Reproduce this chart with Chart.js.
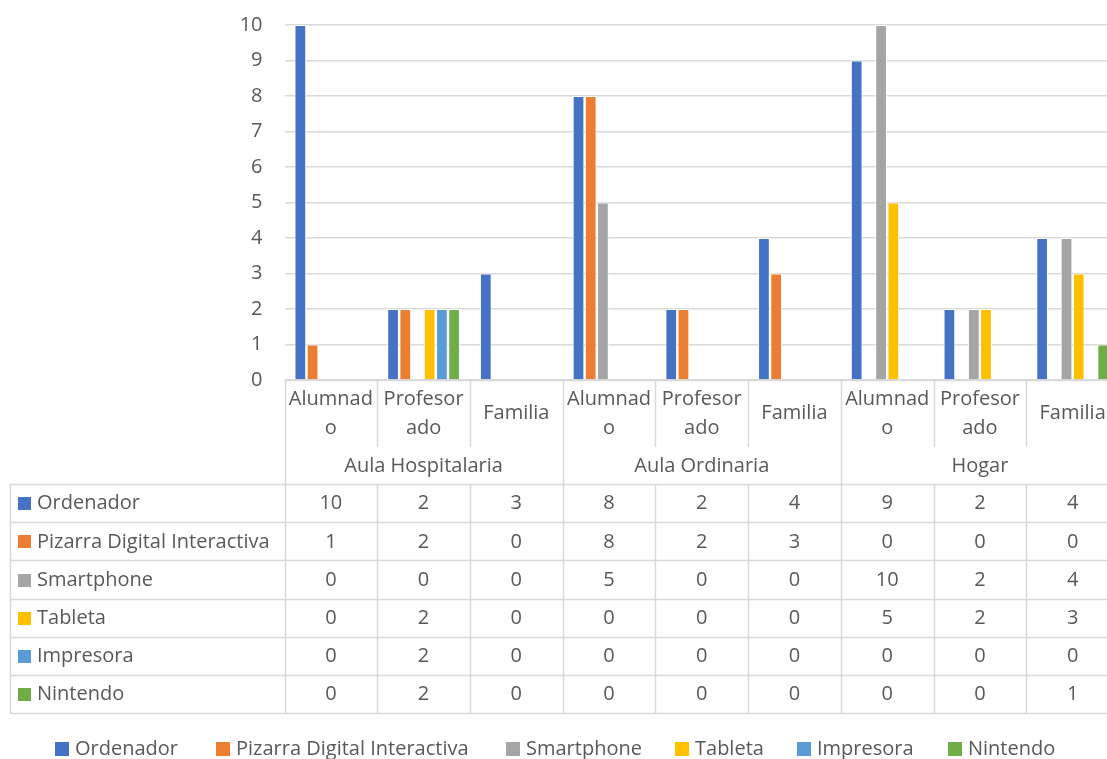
<!DOCTYPE html>
<html>
<head>
<meta charset="utf-8">
<script src="https://cdn.jsdelivr.net/npm/chart.js@4.4.1/dist/chart.umd.min.js"></script>
<style>
  html, body { margin: 0; padding: 0; overflow: hidden; background: #fff; }
  canvas { display: block; }
</style>
</head>
<body>
<canvas id="chart" width="1119" height="759"></canvas>
<script>
// ---- data ----
const groupNames = ['Aula Hospitalaria', 'Aula Ordinaria', 'Hogar'];
const roleNames = ['Alumnado', 'Profesorado', 'Familia'];
// role labels as they wrap inside their narrow cells
const roleLines = [['Alumnad', 'o'], ['Profesor', 'ado'], ['Familia']];
const categories = groupNames.flatMap(g => roleNames.map(r => g + ' · ' + r));

const seriesNames = ['Ordenador', 'Pizarra Digital Interactiva', 'Smartphone', 'Tableta', 'Impresora', 'Nintendo'];
const ordenador  = [10, 2, 3, 8, 2, 4, 9, 2, 4];
const pizarra    = [1, 2, 0, 8, 2, 3, 0, 0, 0];
const smartphone = [0, 0, 0, 5, 0, 0, 10, 2, 4];
const tableta    = [0, 2, 0, 0, 0, 0, 5, 2, 3];
const impresora  = [0, 2, 0, 0, 0, 0, 0, 0, 0];
const nintendo   = [0, 2, 0, 0, 0, 0, 0, 0, 1];
const yTicks = [0, 1, 2, 3, 4, 5, 6, 7, 8, 9, 10];

const seriesValues = [ordenador, pizarra, smartphone, tableta, impresora, nintendo];
const seriesColors = ['#4472C4', '#ED7D31', '#A5A5A5', '#FFC000', '#5B9BD5', '#70AD47'];

// ---- styling ----
const FONT = '"Open Sans", "Noto Sans", sans-serif';
const TEXT = '#595959';
const LINE = '#D9D9D9';

// Category axis drawn as a data table underneath the plot
const tablePlugin = {
  id: 'dataTable',
  afterDraw(chart) {
    const ctx = chart.ctx;
    const xs = chart.scales.x;
    const n = categories.length;
    const catW = (xs.right - xs.left) / n;
    const bx = i => xs.left + i * catW;
    const cx = i => xs.getPixelForValue(i);

    const axisY = chart.chartArea.bottom;
    const subBottom = 447;
    const tableTop = 484;
    const rowH = 38.2;
    const tableBottom = tableTop + rowH * seriesNames.length;
    const tableLeft = 10;
    const right = chart.width;
    const px = v => Math.round(v) + 0.5;

    ctx.save();
    ctx.strokeStyle = LINE;
    ctx.lineWidth = 1.5;
    ctx.beginPath();
    // top edge of the category block
    ctx.moveTo(bx(0), px(axisY)); ctx.lineTo(right, px(axisY));
    // category separators
    for (let i = 0; i <= n; i++) {
      const x = px(bx(i));
      if (i % 3 === 0) {
        ctx.moveTo(x, axisY); ctx.lineTo(x, tableBottom);
      } else {
        ctx.moveTo(x, axisY); ctx.lineTo(x, subBottom);
        ctx.moveTo(x, tableTop); ctx.lineTo(x, tableBottom);
      }
    }
    // table rows
    for (let r = 0; r <= seriesNames.length; r++) {
      const y = px(tableTop + r * rowH);
      ctx.moveTo(tableLeft, y); ctx.lineTo(right, y);
    }
    ctx.moveTo(px(tableLeft), tableTop); ctx.lineTo(px(tableLeft), tableBottom);
    ctx.stroke();

    ctx.fillStyle = TEXT;
    ctx.font = '20px ' + FONT;
    ctx.textBaseline = 'middle';
    ctx.textAlign = 'center';

    // role labels
    for (let i = 0; i < n; i++) {
      const lines = roleLines[i % 3];
      if (lines.length === 1) {
        ctx.fillText(lines[0], cx(i), 413);
      } else {
        ctx.fillText(lines[0], cx(i), 399);
        ctx.fillText(lines[1], cx(i), 428.5);
      }
    }
    // group labels
    groupNames.forEach((g, k) => {
      ctx.fillText(g, (bx(k * 3) + bx(k * 3 + 3)) / 2, 466);
    });

    // rows: key, name and values
    seriesNames.forEach((name, r) => {
      const yc = tableTop + r * rowH + rowH / 2 + 0.5;
      ctx.fillStyle = seriesColors[r];
      ctx.fillRect(18, Math.round(yc - 6.5), 13, 13);
      ctx.fillStyle = TEXT;
      ctx.textAlign = 'left';
      ctx.fillText(name, 37, yc);
      ctx.textAlign = 'center';
      seriesValues[r].forEach((v, i) => ctx.fillText(String(v), cx(i), yc));
    });

    // legend along the bottom
    const legendX = [75, 236, 526, 695, 817, 968];
    const ly = 749;
    seriesNames.forEach((name, r) => {
      ctx.fillStyle = seriesColors[r];
      ctx.fillRect(legendX[r] - 20, ly - 7, 14, 14);
      ctx.fillStyle = TEXT;
      ctx.textAlign = 'left';
      ctx.fillText(name, legendX[r], ly);
    });
    ctx.restore();
  }
};

new Chart(document.getElementById('chart'), {
  type: 'bar',
  data: {
    labels: categories,
    datasets: seriesNames.map((name, r) => ({
      label: name,
      data: seriesValues[r],
      backgroundColor: seriesColors[r],
      borderColor: '#FFFFFF',
      borderWidth: 1,
      borderSkipped: 'start',
      categoryPercentage: 0.79,
      barPercentage: 0.96
    }))
  },
  options: {
    responsive: false,
    animation: false,
    layout: { padding: { left: 224.5, top: 25, bottom: 379, right: 0 } },
    plugins: { legend: { display: false }, tooltip: { enabled: false } },
    scales: {
      x: { display: false },
      y: {
        min: 0,
        max: 10,
        afterBuildTicks(scale) { scale.ticks = yTicks.map(v => ({ value: v })); },
        afterFit(scale) {
          scale.width = 60;
          // the outer layout padding already leaves room for the end labels
          scale.paddingTop = 0;
          scale.paddingBottom = 0;
        },
        ticks: { color: TEXT, font: { family: FONT, size: 20 }, padding: 22 },
        grid: { color: LINE, lineWidth: 1.5, drawTicks: false },
        border: { display: false }
      }
    }
  },
  plugins: [tablePlugin]
});
</script>
</body>
</html>
